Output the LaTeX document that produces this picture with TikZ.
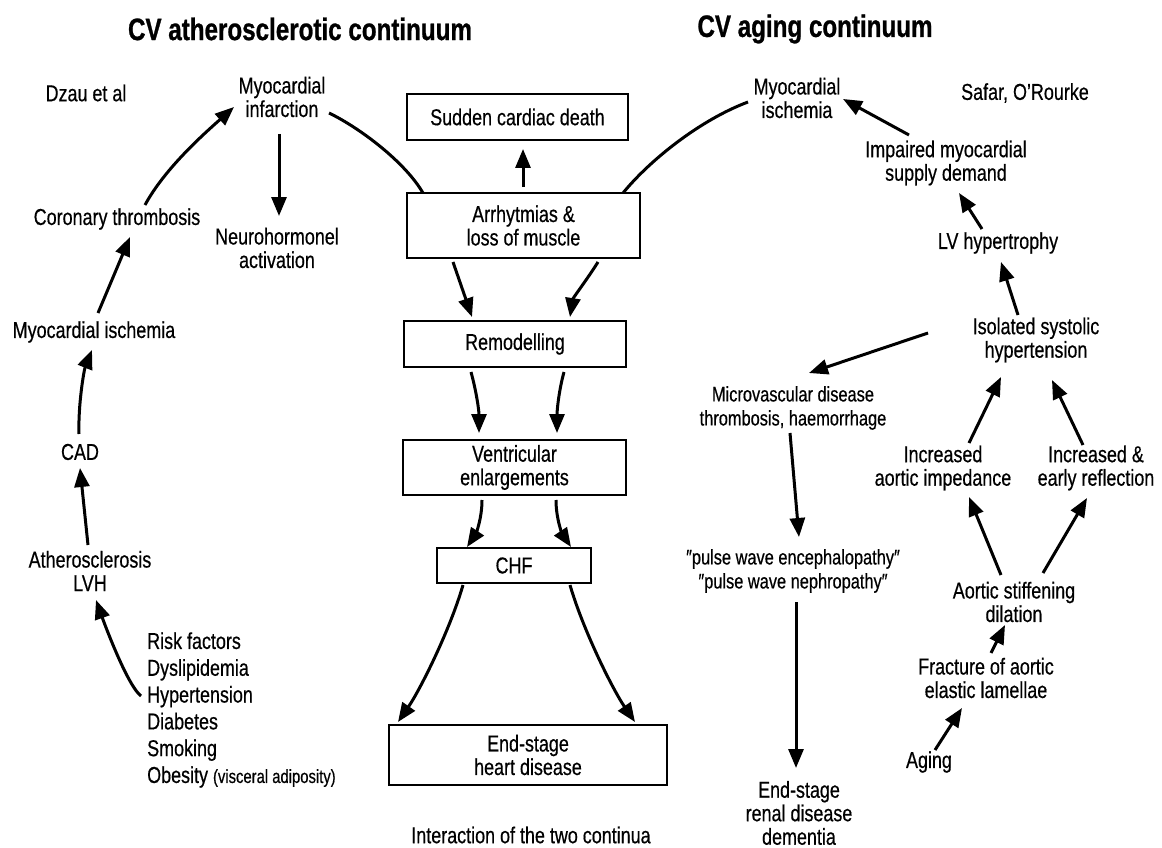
\documentclass[tikz,border=0pt]{standalone}
\usepackage{fontspec}
\setmainfont{Liberation Sans}[FakeStretch=0.78, UprightFeatures={FakeBold=0.5}, BoldFeatures={FakeBold=0.8}]
\usetikzlibrary{arrows.meta,calc}
\begin{document}
\begin{tikzpicture}[x=1pt,y=-1pt,
  txt/.style={inner sep=0pt, align=center, font=\fontsize{23}{23.5}\selectfont},
  smalltxt/.style={inner sep=0pt, align=center, font=\fontsize{21}{24}\selectfont},
  ttl/.style={inner sep=0pt, font=\bfseries\fontsize{31}{32}\selectfont},
  box/.style={draw, line width=1.6pt, inner sep=0pt, align=center, font=\fontsize{23}{23.5}\selectfont},
  arw/.style={line width=3pt, -{Triangle[length=19pt,width=15pt]}},
  lnk/.style={line width=3pt},
]
\useasboundingbox[fill=white] (0,0) rectangle (1162,848);

% titles
\node[ttl] (t1) at (300,29) {CV atherosclerotic continuum};
\node[ttl] (t2) at (815,29) {CV aging continuum};

% left cycle
\node[txt] (dzau) at (86,93) {Dzau et al};
\node[txt] (mi) at (282,97) {Myocardial\\infarction};
\node[txt] (ct) at (117,219) {Coronary thrombosis};
\node[txt] (neuro) at (277,248) {Neurohormonel\\activation};
\node[txt] (mil) at (94,332) {Myocardial ischemia};
\node[txt] (cad) at (80,452) {CAD};
\node[txt] (ath) at (90,571) {Atherosclerosis\\LVH};
\node[inner sep=0pt, align=left, anchor=west, font=\fontsize{23}{26.8}\selectfont] (risk) at (147,710)
  {Risk factors\\Dyslipidemia\\Hypertension\\Diabetes\\Smoking\\Obesity {\fontsize{19}{26.8}\selectfont (visceral adiposity)}};

% central column
\node[box, minimum width=221pt, minimum height=46pt] (sudden) at (517.5,117) {Sudden cardiac death};
\node[box, minimum width=233pt, minimum height=65pt] (arrb) at (523.5,225.5) {Arrhytmias \&\\loss of muscle};
\node[box, minimum width=222pt, minimum height=46pt] (remod) at (515,344) {Remodelling};
\node[box, minimum width=223pt, minimum height=55pt] (vent) at (514.5,467.5) {Ventricular\\enlargements};
\node[box, minimum width=154pt, minimum height=35pt] (chf) at (514,565.5) {CHF};
\node[box, minimum width=278pt, minimum height=60pt] (endst) at (528,755) {End-stage\\heart disease};
\node[txt] (inter) at (531,835) {Interaction of the two continua};

% right side
\node[txt] (mir) at (797,98) {Myocardial\\ischemia};
\node[txt] (safar) at (1025,93) {Safar, O’Rourke};
\node[txt] (imp) at (946,163) {Impaired myocardial\\supply demand};
\node[txt] (lv) at (998,243) {LV hypertrophy};
\node[txt] (isol) at (1036,340) {Isolated systolic\\hypertension};
\node[smalltxt] (micro) at (793,408) {Microvascular disease\\thrombosis, haemorrhage};
\node[smalltxt] (pulse) at (793,571) {″pulse wave encephalopathy″\\″pulse wave nephropathy″};
\node[txt] (esr) at (799,813) {End-stage\\renal disease\\dementia};
\node[txt] (incimp) at (943,468) {Increased\\aortic impedance};
\node[txt] (increfl) at (1096,468) {Increased \&\\early reflection};
\node[txt] (aos) at (1014,602) {Aortic stiffening\\dilation};
\node[txt] (frac) at (986,678) {Fracture of aortic\\elastic lamellae};
\node[txt] (aging) at (929,762) {Aging};

% left cycle connectors
\draw[arw] ($(risk.west)+(-6,-14)$) .. controls +(-13,-10) and +(10,28) .. ($(ath)+(6,29)$);
\draw[arw] ($(ath)+(-2,-26)$) -- ($(cad)+(0,16)$);
\draw[arw] ($(cad)+(-1,-18)$) .. controls +(-1,-29) and +(-8,20) .. ($(mil)+(-2,18)$);
\draw[arw] ($(mil)+(4,-19)$) -- ($(ct)+(13,18)$);
\draw[arw] ($(ct)+(28,-14)$) .. controls +(20,-37) and +(-29,26) .. ($(mi)+(-48,10)$);
\draw[arw] ($(mi)+(-3,37)$) -- ($(neuro)+(2,-32)$);
\draw[lnk] ($(mi)+(47,16)$) .. controls +(31,15) and +(-18,-31) .. ($(arrb)+(-100.5,-32.5)$);

% central connectors
\draw[arw] ($(arrb)+(-0.5,-38.5)$) -- ($(sudden)+(5.5,32)$);
\draw[arw] ($(arrb)+(-70.5,36.5)$) -- ($(remod)+(-43,-27)$);
\draw[arw] ($(arrb)+(74.5,36.5)$) .. controls +(-10,16) and +(3,-19) .. ($(remod)+(55,-27)$);
\draw[arw] ($(remod)+(-44,28)$) .. controls +(5,18) and +(0,-23) .. ($(vent)+(-35.5,-34.5)$);
\draw[arw] ($(remod)+(49,28)$) .. controls +(-5,18) and +(0,-23) .. ($(vent)+(42.5,-34.5)$);
\draw[arw] ($(vent)+(-32.5,32.5)$) .. controls +(0,20) and +(8,-12) .. ($(chf)+(-47,-18.5)$);
\draw[arw] ($(vent)+(41.5,32.5)$) .. controls +(0,20) and +(-8,-12) .. ($(chf)+(57,-18.5)$);
\draw[arw] ($(chf)+(-51,19.5)$) .. controls +(-13,45) and +(22,-32) .. ($(endst)+(-130,-33)$);
\draw[arw] ($(chf)+(56,19.5)$) .. controls +(13,45) and +(-22,-32) .. ($(endst)+(107,-33)$);
\draw[lnk] ($(arrb)+(99.5,-32.5)$) .. controls +(27,-33) and +(-48,18) .. ($(mir)+(-49,4)$);

% right connectors
\draw[arw] ($(imp)+(-37,-28)$) -- ($(mir)+(46,1)$);
\draw[arw] ($(lv)+(-16,-14)$) -- ($(imp)+(13,30)$);
\draw[arw] ($(isol)+(-18,-25)$) -- ($(lv)+(3,19)$);
\draw[arw] ($(isol)+(-108,-7)$) -- ($(micro)+(16,-35)$);
\draw[arw] ($(micro)+(-3,25)$) -- ($(pulse)+(6,-34)$);
\draw[arw] ($(pulse)+(3,31)$) -- ($(esr)+(-3,-45)$);
\draw[arw] ($(incimp)+(26,-25)$) -- ($(isol)+(-35,37)$);
\draw[arw] ($(increfl)+(-13,-23)$) -- ($(isol)+(16,40)$);
\draw[arw] ($(aos)+(-13,-27)$) -- ($(incimp)+(26,29)$);
\draw[arw] ($(aos)+(29,-29)$) -- ($(increfl)+(-9,30)$);
\draw[arw] ($(frac)+(5,-25)$) -- ($(aos)+(-9,23)$);
\draw[arw] ($(aging)+(6,-12)$) -- ($(frac)+(-24,30)$);
\end{tikzpicture}
\end{document}
